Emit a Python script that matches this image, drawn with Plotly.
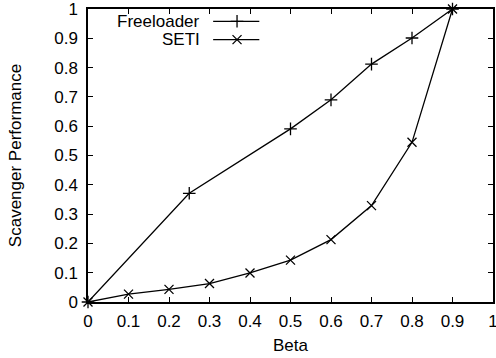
import plotly.graph_objects as go

beta_free = [0, 0.25, 0.5, 0.6, 0.7, 0.8, 0.9]
perf_free = [0, 0.371, 0.591, 0.690, 0.812, 0.901, 1.0]
beta_seti = [0, 0.1, 0.2, 0.3, 0.4, 0.5, 0.6, 0.7, 0.8, 0.9]
perf_seti = [0, 0.027, 0.043, 0.063, 0.099, 0.143, 0.213, 0.329, 0.545, 1.0]
tick_vals = [0, 0.1, 0.2, 0.3, 0.4, 0.5, 0.6, 0.7, 0.8, 0.9, 1]
tick_text = ["0", "0.1", "0.2", "0.3", "0.4", "0.5", "0.6", "0.7", "0.8", "0.9", "1"]
series_names = ["Freeloader", "SETI"]

FONT = "Liberation Sans, Arial, Helvetica, sans-serif"
FS = 17
fig = go.Figure()
fig.add_trace(go.Scatter(x=beta_free, y=perf_free, mode="lines+markers", name=series_names[0],
                         line=dict(color="black", width=1.3),
                         marker=dict(symbol="cross-thin-open", size=9, color="black",
                                     line=dict(color="black", width=1.3)),
                         cliponaxis=False, showlegend=False))
fig.add_trace(go.Scatter(x=beta_seti, y=perf_seti, mode="lines+markers", name=series_names[1],
                         line=dict(color="black", width=1.3),
                         marker=dict(symbol="x-thin-open", size=9, color="black",
                                     line=dict(color="black", width=1.3)),
                         cliponaxis=False, showlegend=False))

# custom gnuplot-style legend (text, then line sample with marker)
leg_y = [0.958, 0.8955]
sym = ["cross-thin-open", "x-thin-open"]
for i, nm in enumerate(series_names):
    fig.add_annotation(xref="paper", yref="paper", x=0.2815, y=leg_y[i], text=nm, showarrow=False,
                       xanchor="right", yanchor="middle", font=dict(family=FONT, size=FS, color="black"))
    fig.add_shape(type="line", xref="paper", yref="paper", x0=0.309, x1=0.423, y0=leg_y[i], y1=leg_y[i],
                  line=dict(color="black", width=1.3))
    fig.add_trace(go.Scatter(x=[0.368], y=[leg_y[i]], xaxis="x2", yaxis="y2", mode="markers",
                             marker=dict(symbol=sym[i], size=9, color="black",
                                         line=dict(color="black", width=1.3)),
                             showlegend=False, hoverinfo="skip"))

axis_common = dict(range=[0, 1], tickmode="array", tickvals=tick_vals, ticktext=tick_text,
                   ticks="inside", ticklen=5, tickwidth=1, tickcolor="black",
                   showline=True, linecolor="black", linewidth=1.5, mirror="allticks",
                   showgrid=False, zeroline=False, automargin=False, ticklabeloverflow="allow",
                   tickfont=dict(family=FONT, size=FS, color="black"))
fig.update_layout(
    width=496, height=358,
    margin=dict(l=88, r=3, t=9, b=56),
    paper_bgcolor="white", plot_bgcolor="white",
    font=dict(family=FONT, size=FS, color="black"),
    xaxis=dict(**axis_common, ticklabelstandoff=3,
               title=dict(text="Beta", font=dict(family=FONT, size=FS), standoff=9)),
    yaxis=dict(**axis_common, ticklabelstandoff=5,
               title=dict(text="Scavenger Performance", font=dict(family=FONT, size=FS), standoff=28)),
    xaxis2=dict(range=[0, 1], overlaying="x", visible=False, anchor="y2"),
    yaxis2=dict(range=[0, 1], overlaying="y", visible=False, anchor="x2"),
)
fig.write_html("out.html")
